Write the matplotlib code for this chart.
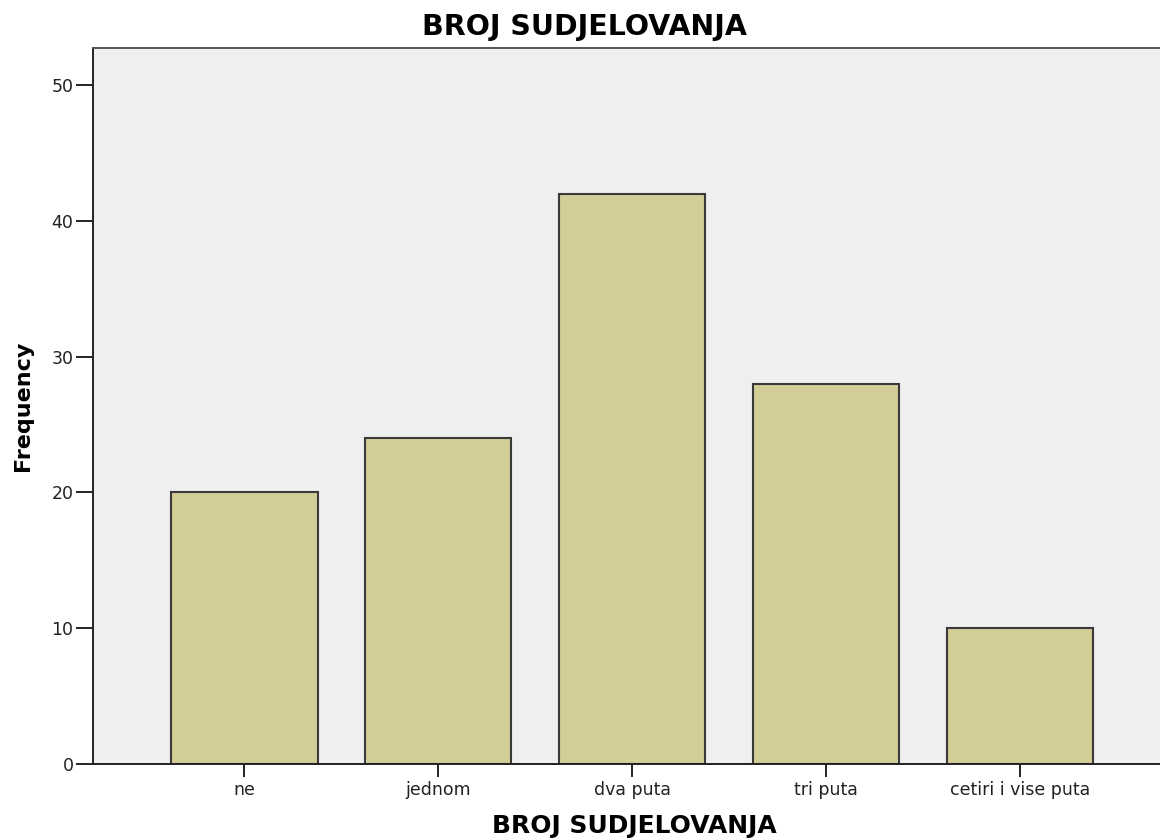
import matplotlib.pyplot as plt

# podaci
categories = ["ne", "jednom", "dva puta", "tri puta", "cetiri i vise puta"]
frequency = [20, 24, 42, 28, 10]
y_ticks = [0, 10, 20, 30, 40, 50]

plt.rcParams["font.family"] = ["DejaVu Sans"]

fig = plt.figure(figsize=(11.6, 8.4), dpi=100)
ax = fig.add_axes([93 / 1160, 1 - 764 / 840, 1 - 93 / 1160, (764 - 48) / 840])
ax.set_facecolor("#efefef")

x = range(len(categories))
ax.bar(x, frequency, width=0.753, color="#d3ce97", edgecolor="#3a3a3a", linewidth=1.5, zorder=2)

ax.set_xlim(-0.781, 4.72)
ax.set_ylim(0, 52.72)
ax.set_xticks(list(x))
ax.set_xticklabels(categories, fontsize=12.5, color="#222222")
ax.set_yticks(y_ticks)
ax.tick_params(axis="y", length=12, width=1.2, labelsize=12.5, pad=2, labelcolor="#222222")
ax.tick_params(axis="x", length=9, width=1.2, pad=3)

for side in ["left", "bottom", "top"]:
    ax.spines[side].set_linewidth(1.4)
    ax.spines[side].set_color("#222222")
ax.spines["right"].set_visible(False)
ax.spines["top"].set_color("#555555")

fig.text(584 / 1160, 1 - 27 / 840, "BROJ SUDJELOVANJA", ha="center", va="center",
         fontsize=20.5, fontweight="bold")
fig.text(634 / 1160, 1 - 826 / 840, "BROJ SUDJELOVANJA", ha="center", va="center",
         fontsize=18, fontweight="bold")
fig.text(23 / 1160, 1 - 406 / 840, "Frequency", ha="center", va="center",
         rotation=90, fontsize=16, fontweight="bold")

plt.savefig("out.png", dpi=100)
plt.close()
